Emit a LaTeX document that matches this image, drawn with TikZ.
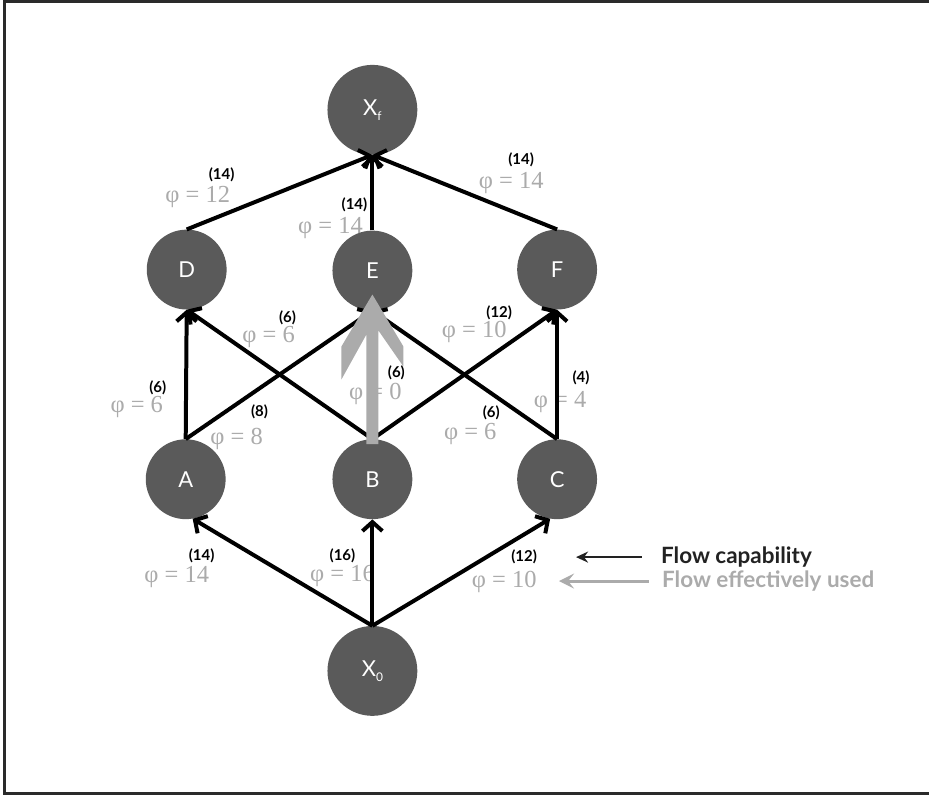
\documentclass[tikz,border=0pt]{standalone}
\usepackage{fontspec}
\setmainfont{Liberation Serif}
\setsansfont{Lato}
\usetikzlibrary{arrows.meta,calc}
\definecolor{nodegray}{HTML}{5A5A5A}
\definecolor{flowgray}{HTML}{ABABAB}
\definecolor{framec}{HTML}{2A2A2A}
\definecolor{legdark}{HTML}{222222}
\pgfdeclarelayer{bg}
\pgfsetlayers{bg,main}
\begin{document}
\begin{tikzpicture}[x=1pt,y=-1pt,
  vertex/.style={circle,fill=nodegray,text=white,minimum size=80pt,inner sep=0pt,font=\sffamily\fontsize{22}{22}\selectfont},
  bigvertex/.style={vertex,minimum size=90pt},
  capl/.style={font=\sffamily\bfseries\fontsize{15}{15}\selectfont,text=black,inner sep=0pt},
  usedl/.style={font=\fontsize{24.5}{24.5}\selectfont,text=flowgray,inner sep=0pt},
  flowedge/.style={line width=4pt,-{Straight Barb[length=9pt,width=20pt]}},
  legtext/.style={anchor=west,inner sep=0pt,font=\sffamily\bfseries\fontsize{22.5}{22.5}\selectfont},
]
\begin{pgfonlayer}{bg}
\fill[white] (0,0) rectangle (930,799);
\useasboundingbox (0,0) rectangle (930,799);
\end{pgfonlayer}
\draw[line width=3pt,framec,line join=miter] (930,2) -- (5,2) -- (5,795) -- (930,795);

% nodes
\node[bigvertex] (Xf) at (373,110) {X\raisebox{-5pt}{\fontsize{12}{12}\selectfont f}};
\node[vertex] (D) at (187,270) {D};
\node[vertex] (E) at (373,271) {E};
\node[vertex] (F) at (558,270) {F};
\node[vertex] (A) at (186,480) {A};
\node[vertex] (B) at (373,480) {B};
\node[vertex] (C) at (558,480) {C};
\node[bigvertex] (X0) at (373,672) {X\raisebox{-5pt}{\fontsize{12}{12}\selectfont 0}};

% labels (behind the connectors)
\begin{pgfonlayer}{bg}
\node[capl] (cDXf) at (222,175) {(14)};
\node[usedl] (uDXf) at (198,197) {φ = 12};
\node[capl] (cEXf) at (355,205) {(14)};
\node[usedl] (uEXf) at (331,228) {φ = 14};
\node[capl] (cFXf) at (522,160) {(14)};
\node[usedl] (uFXf) at (512,183) {φ = 14};
\node[capl] (cBD) at (288,318) {(6)};
\node[usedl] (uBD) at (269,338) {φ = 6};
\node[capl] (cCE) at (500,313) {(12)};
\node[usedl] (uCE) at (475,333) {φ = 10};
\node[usedl] (uBE) at (376,395) {φ = 0};
\node[capl] (cCF) at (582,378) {(4)};
\node[usedl] (uCF) at (561,403) {φ = 4};
\node[capl] (cAD) at (158,388) {(6)};
\node[usedl] (uAD) at (137,408) {φ = 6};
\node[capl] (cAE) at (260,412) {(8)};
\node[usedl] (uAE) at (237,440) {φ = 8};
\node[capl] (cBF) at (492,413) {(6)};
\node[usedl] (uBF) at (471,435) {φ = 6};
\node[capl] (cXA) at (202,557) {(14)};
\node[usedl] (uXA) at (177,578) {φ = 14};
\node[capl] (cXB) at (343,557) {(16)};
\node[usedl] (uXB) at (343,577) {φ = 16};
\node[capl] (cXC) at (525,558) {(12)};
\node[usedl] (uXC) at (505,583) {φ = 10};
\end{pgfonlayer}

% connectors
\draw[flowedge] (X0.north) -- (A.-80);
\draw[flowedge] (X0.north) -- (B.south);
\draw[flowedge] (X0.north) -- (C.-100);
\draw[flowedge] (A.north) -- (D.south);
\draw[flowedge] (A.north) -- (E.south);
\draw[flowedge] (B.north) -- (D.south);
\draw[flowedge] (B.north) -- (F.south);
\draw[flowedge] (C.north) -- (E.south);
\draw[flowedge] (C.north) -- (F.south);
\draw[flowedge] (D.north) -- (Xf.south);
\draw[flowedge] (E.north) -- (Xf.south);
\draw[flowedge] (F.north) -- (Xf.south);

% flow effectively used B -> E
\fill[flowgray] ($(E)+(0,24)$) -- ($(E)+(31,76)$) -- ($(E)+(31,96)$) -- ($(E)+(6,60)$)
  -- ($(B.north)+(6,5)$) -- ($(B.north)+(-6,5)$) -- ($(E)+(-6,64)$)
  -- ($(E)+(-31,109)$) -- ($(E)+(-31,76)$) -- cycle;
\node[capl] (cBE) at (397,373) {(6)};

% legend
\node[legtext,text=legdark] (legcap) at (662,558) {Flow capability};
\node[legtext,text=flowgray] (legused) at (663,582) {Flow effectively used};
\coordinate (capS) at (643,558);
\coordinate (capE) at (577,558);
\coordinate (useS) at (650,582);
\coordinate (useE) at (560,582);
\draw[line width=2pt,legdark,-{Stealth[length=12pt,width=11pt,inset=4pt]}] (capS) -- (capE);
\draw[line width=3pt,flowgray,-{Stealth[length=15pt,width=15pt,inset=6pt]}] (useS) -- (useE);
\end{tikzpicture}
\end{document}
